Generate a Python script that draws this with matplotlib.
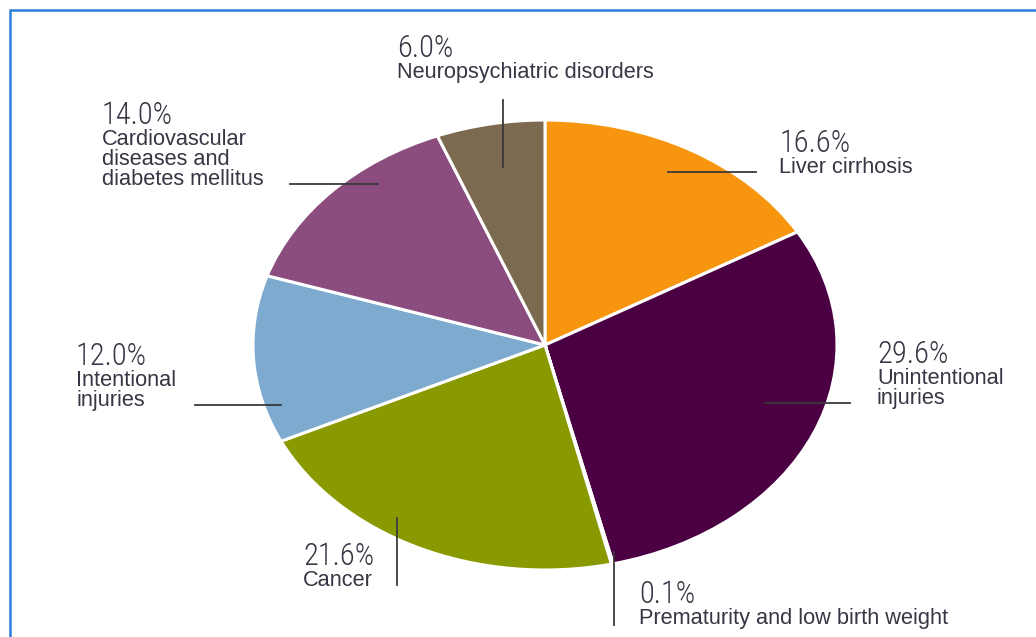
import matplotlib.pyplot as plt
from matplotlib.lines import Line2D
from matplotlib.patches import Rectangle

W, H = 1036, 637

causes = ['Liver cirrhosis', 'Unintentional\ninjuries', 'Prematurity and low birth weight',
          'Cancer', 'Intentional\ninjuries', 'Cardiovascular\ndiseases and\ndiabetes mellitus',
          'Neuropsychiatric disorders']
shares = [16.6, 29.6, 0.1, 21.6, 12.0, 14.0, 6.0]
colors = ['#F7960E', '#4A0042', '#C2C2C2', '#899A00', '#7EAACF', '#8B4D7E', '#7B6A4F']

# text x, percent baseline y, leader line (x0, y0, x1, y1) -- all in pixels from top-left
label_pos = [
    (779, 152, (668, 172, 756, 172)),
    (877, 363, (765, 403, 850, 403)),
    (639, 603, (614, 552, 614, 625)),
    (303, 565, (397, 518, 397, 585)),
    (76, 365, (195, 405, 281, 405)),
    (102, 124, (290, 184, 378, 184)),
    (397, 57, (503, 100, 503, 167)),
]

cx, cy, rx, ry = 545, 345, 292, 225

pct_font = ['Roboto Condensed', 'Sofia Sans Condensed', 'DejaVu Sans']
name_font = ['Liberation Sans', 'DejaVu Sans']


def fx(px):
    return px / W


def fy(py):
    return 1 - py / H


fig = plt.figure(figsize=(W / 100, H / 100), dpi=100)
ax = fig.add_axes([0, 0, 1, 1])
ax.pie(shares, colors=colors, startangle=90, counterclock=False, radius=1,
       wedgeprops=dict(edgecolor='white', linewidth=2.2))
ax.set_aspect('auto')
ax.set_xlim(-cx / rx, (W - cx) / rx)
ax.set_ylim(-(H - cy) / ry, cy / ry)
ax.axis('off')

txt_col = '#363644'
for name, val, (tx, by, (x0, y0, x1, y1)) in zip(causes, shares, label_pos):
    fig.add_artist(Line2D([fx(x0), fx(x1)], [fy(y0), fy(y1)], color='#3a3a3a', lw=1.3))
    fig.text(fx(tx), fy(by), f'{val:.1f}%', fontsize=22, color=txt_col, family=pct_font,
             fontweight='light', va='baseline', ha='left')
    for i, line in enumerate(name.split('\n')):
        fig.text(fx(tx), fy(by + 20 * (i + 1) + 1), line, fontsize=15.7, color=txt_col,
                 family=name_font, va='baseline', ha='left')

# blue frame, running off the right and bottom edges
fig.add_artist(Rectangle((fx(10), fy(H + 20)), fx(W + 20 - 10), fy(10) - fy(H + 20),
                         fill=False, edgecolor='#2B80D6', lw=1.8, transform=fig.transFigure))

fig.savefig('out.png', dpi=100, facecolor='white')
